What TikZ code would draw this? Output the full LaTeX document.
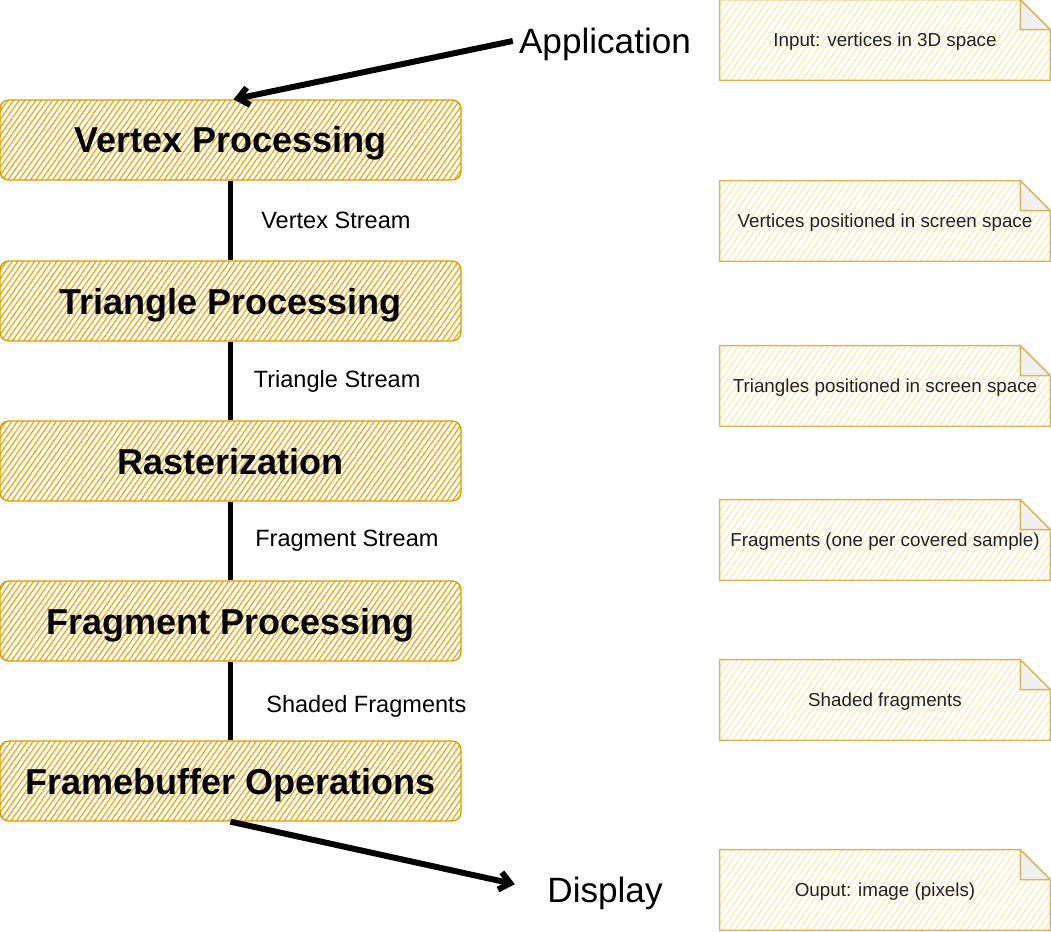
\documentclass[tikz,border=0pt]{standalone}
\usepackage{fontspec}
\setmainfont{Liberation Sans}
\usetikzlibrary{arrows.meta,patterns.meta,backgrounds}
\definecolor{stagefill}{HTML}{F0A30A}
\definecolor{stageline}{HTML}{D79B00}
\definecolor{notefill}{HTML}{FBE3A0}
\definecolor{noteline}{HTML}{D6B656}
\definecolor{notetext}{HTML}{222222}
\tikzset{
  stagebox/.style={draw=stageline, line width=0.8pt, rounded corners=5pt,
    pattern={Lines[angle=55,distance=2.6pt,line width=0.7pt]}, pattern color=stagefill,
    minimum width=9.22cm, minimum height=1.6cm, text height=14.8pt, text depth=0pt,
    font=\fontsize{20.5}{24}\selectfont\bfseries},
  notebox/.style={minimum width=6.6cm, minimum height=1.6cm, inner sep=0pt,
    text height=7.7pt, text depth=0pt,
    font=\fontsize{10.7}{13}\selectfont, text=notetext},
  noteshape/.style={draw=noteline, line width=0.8pt,
    pattern={Lines[angle=55,distance=3pt,line width=0.5pt]}, pattern color=notefill},
  endpoint/.style={font=\fontsize{20}{24}\selectfont, text height=14.4pt, text depth=0pt},
  flow/.style={line width=2.8pt},
  feed/.style={line width=3.4pt, ->},
  flowlabel/.style={font=\fontsize{13.4}{16}\selectfont, right},
}
\begin{document}
\begin{tikzpicture}[x=0.02cm, y=-0.02cm, >={Straight Barb[length=6pt,width=10pt]}]
    \useasboundingbox (0,0) rectangle (1051,932);

    \foreach \Y/\T in { 140/{Vertex Processing},
                        301/{Triangle Processing},
                        461/{Rasterization},
                        621/{Fragment Processing},
                        781/{Framebuffer Operations}
        } {
        \node[stagebox] (stage\Y) at (230.5,\Y) {\T};
        }

    \foreach \Y/\T in { 40/{Input: vertices in 3D space},
                       221/{Vertices positioned in screen space},
                       386/{Triangles positioned in screen space},
                       540/{Fragments (one per covered sample)},
                       700/{Shaded fragments},
                       890/{Ouput: image (pixels)}
        } {
        \node[notebox] (note\Y) at (885,\Y) {\T};
        \begin{scope}[on background layer]
            \draw[noteshape] (note\Y.north west) -- ([xshift=-0.6cm]note\Y.north east)
                -- ([yshift=-0.6cm]note\Y.north east) -- (note\Y.south east)
                -- (note\Y.south west) -- cycle;
            \draw[noteshape, fill=black!6] ([xshift=-0.6cm]note\Y.north east)
                -- ([xshift=-0.6cm,yshift=-0.6cm]note\Y.north east)
                -- ([yshift=-0.6cm]note\Y.north east) -- cycle;
        \end{scope}
        }

    \node[endpoint] (app) at (605,41) {Application};
    \node[endpoint] (disp) at (605,890) {Display};

    \draw[flow] (stage140) -- node[flowlabel, xshift=0.45cm] {Vertex Stream} (stage301);
    \draw[flow] (stage301) -- node[flowlabel, xshift=0.3cm] {Triangle Stream} (stage461);
    \draw[flow] (stage461) -- node[flowlabel, xshift=0.33cm] {Fragment Stream} (stage621);
    \draw[flow] (stage621) -- node[flowlabel, xshift=0.55cm, yshift=-0.1cm] {Shaded Fragments} (stage781);

    \draw[feed] (app.west) -- ([xshift=0.06cm]stage140.north);
    \draw[feed, shorten >=0.54cm] (stage781.south) -- (disp.west);
\end{tikzpicture}
\end{document}
